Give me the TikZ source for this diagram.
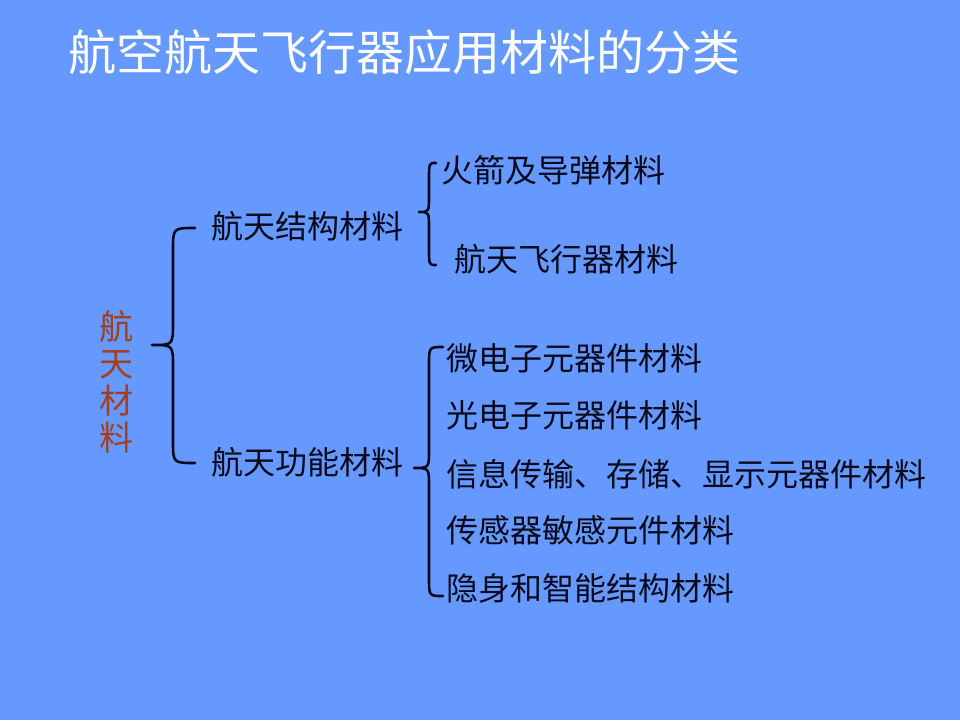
\documentclass[tikz,border=0pt]{standalone}
\usepackage{fontspec}
\newfontfamily\cjk{Noto Sans CJK SC}
\definecolor{bgblue}{RGB}{102,153,255}
\definecolor{rust}{RGB}{160,64,32}
\definecolor{ink}{RGB}{10,10,30}
\newcommand\drawbrace[7]{% xend, xline, xtip, ytop, ymid, ybot, radius
  \draw[bracestyle] (#1,#4) .. controls (#2,#4) .. (#2,#4+#7) -- (#2,#5-#7)
    .. controls (#2,#5) .. (#3,#5) .. controls (#2,#5) .. (#2,#5+#7)
    -- (#2,#6-#7) .. controls (#2,#6) .. (#1,#6);}
\begin{document}
\begin{tikzpicture}[x=1pt,y=-1pt,
  bracestyle/.style={draw=ink,line width=2.6pt,line cap=round,line join=round},
  item/.style={anchor=west,inner sep=0pt,text=ink,font=\cjk\fontsize{32}{36}\selectfont},
  titlestyle/.style={anchor=west,inner sep=0pt,text=white,font=\cjk\fontsize{48}{54}\selectfont},
  sidestyle/.style={inner sep=0pt,text=rust,align=center,font=\cjk\fontsize{34}{37}\selectfont}]
\fill[bgblue] (0,0) rectangle (960,720);
\useasboundingbox (0,0) rectangle (960,720);
\node[titlestyle] (title) at (68,52) {航空航天飞行器应用材料的分类};
\node[sidestyle] (root) at (116,382) {航\\天\\材\\料};
\drawbrace{195}{173}{152}{228}{345}{463}{22}
\node[item] (s) at (211,226) {航天结构材料};
\node[item] (f) at (211,462) {航天功能材料};
\drawbrace{436}{429}{419}{163}{212}{265}{16}
\node[item] (s1) at (441,170) {火箭及导弹材料};
\node[item] (s2) at (454,259) {航天飞行器材料};
\drawbrace{443}{429}{414}{347}{468}{596}{18}
\node[item] (f1) at (446,358) {微电子元器件材料};
\node[item] (f2) at (446,415) {光电子元器件材料};
\node[item] (f3) at (446,474) {信息传输、存储、显示元器件材料};
\node[item] (f4) at (446,530) {传感器敏感元件材料};
\node[item] (f5) at (446,588) {隐身和智能结构材料};
\end{tikzpicture}
\end{document}
